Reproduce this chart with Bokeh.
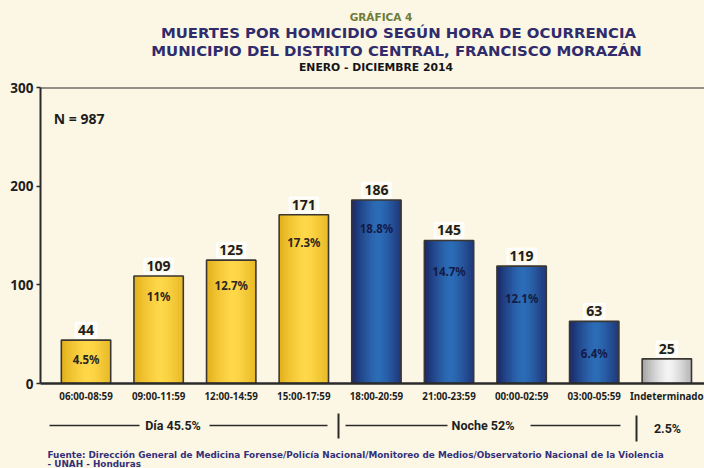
from bokeh.plotting import figure
from bokeh.models import Range1d, FixedTicker, Span, Label
from bokeh.layouts import column
from bokeh.embed import file_html
from bokeh.resources import INLINE
from bokeh.core.properties import value

# ---------------- data ----------------
categories = ["06:00-08:59", "09:00-11:59", "12:00-14:59", "15:00-17:59",
              "18:00-20:59", "21:00-23:59", "00:00-02:59", "03:00-05:59",
              "Indeterminado"]
counts = [44, 109, 125, 171, 186, 145, 119, 63, 25]
percents = ["4.5%", "11%", "12.7%", "17.3%", "18.8%", "14.7%", "12.1%", "6.4%", ""]
period = ["dia", "dia", "dia", "dia", "noche", "noche", "noche", "noche", "ind"]
groups = ["Día 45.5%", "Noche 52%", "2.5%"]
total_label = "N = 987"
y_ticks = [0, 100, 200, 300]

title_top = "GRÁFICA 4"
title_1 = "MUERTES POR HOMICIDIO SEGÚN HORA DE OCURRENCIA"
title_2 = "MUNICIPIO DEL DISTRITO CENTRAL, FRANCISCO MORAZÁN"
title_3 = "ENERO - DICIEMBRE 2014"
source_1 = ("Fuente: Dirección General de Medicina Forense/Policía Nacional/"
            "Monitoreo de Medios/Observatorio Nacional de la Violencia")
source_2 = "- UNAH - Honduras"

# ---------------- style ----------------
BG = "#FCF7E5"
NOTO = value("Noto Sans")
DEJA = value("DejaVu Sans")
W = 704
bar_w = 0.68
pct_dy = [19, 21, 25, 28, 29, 31, 32, 32, 0]
grad = {
    "dia": ("#E0AE18", "#FFD84A"),
    "noche": ("#1A2462", "#2C6DB8"),
    "ind": ("#9E9E9E", "#F4F4F4"),
}
pct_color = {"dia": "#2A2620", "noche": "#141A45", "ind": "#222222"}


def mix(c1, c2, t):
    a = [int(c1[i:i + 2], 16) for i in (1, 3, 5)]
    b = [int(c2[i:i + 2], 16) for i in (1, 3, 5)]
    return "#%02x%02x%02x" % tuple(int(round(a[k] + (b[k] - a[k]) * t)) for k in range(3))


def base_fig(w, h, xr, yr, **kw):
    return figure(width=w, height=h, x_range=xr, y_range=yr, output_backend="svg",
                  toolbar_location=None, background_fill_color=BG,
                  border_fill_color=BG, outline_line_color=None, **kw)


# ---------------- title figure (pixel coordinates) ----------------
pt = base_fig(W, 80, Range1d(40, 704), Range1d(80, 0),
              x_axis_type=None, y_axis_type=None,
              min_border_left=40, min_border_right=0,
              min_border_top=0, min_border_bottom=0)
pt.text(x=[380.5], y=[16], text=[title_top], text_font=DEJA, text_font_style="bold",
        text_font_size="10.5px", text_color="#6E7B3A", text_align="center",
        text_baseline="middle")
pt.text(x=[398, 396], y=[32, 50], text=[title_1, title_2], text_font=DEJA,
        text_font_style="bold", text_font_size="14.9px", text_color="#302C6C",
        text_align="center", text_baseline="middle")
pt.text(x=[375.5], y=[66.5], text=[title_3], text_font=DEJA, text_font_style="bold",
        text_font_size="10.8px", text_color="#151515", text_align="center",
        text_baseline="middle")

# ---------------- main chart ----------------
xs = list(range(len(categories)))
p = base_fig(W, 333, Range1d(-0.627, 8.519), Range1d(0, 300),
             min_border_left=40, min_border_right=0, min_border_top=7,
             min_border_bottom=30)
p.grid.visible = False

# gradient bars built as thin vertical strips
N = 22
sx, sw, stop, sc = [], [], [], []
for i, v in enumerate(counts):
    edge, center = grad[period[i]]
    for k in range(N):
        t0 = (k + 0.5) / N
        d = abs(t0 - 0.55) / 0.55
        sx.append(xs[i] - bar_w / 2 + t0 * bar_w)
        sw.append(bar_w / N * (1.0 if k in (0, N - 1) else 1.6))
        stop.append(v)
        sc.append(mix(center, edge, min(1.0, d) ** 1.4))
p.vbar(x=sx, width=sw, top=stop, bottom=0, fill_color=sc, line_color=None)
p.vbar(x=xs, width=bar_w, top=counts, bottom=0, fill_color=None,
       line_color="#3A3732", line_width=1.6)

# value labels in white-bordered boxes
for i, c in enumerate(counts):
    p.add_layout(Label(x=xs[i], y=c, text=str(c), y_offset=3, text_align="center",
                       text_baseline="bottom", text_font="Noto Sans",
                       text_font_style="bold", text_font_size="14px",
                       text_color="#1E1E1E", border_line_color="white",
                       border_line_width=2.5, padding=2))

# percentage labels inside bars
pi = [i for i in xs if percents[i]]
p.text(x=[xs[i] for i in pi], y=[counts[i] for i in pi], text=[percents[i] for i in pi],
       y_offset=[pct_dy[i] for i in pi], text_font=NOTO, text_font_style="bold",
       text_font_size="11.5px", text_color=[pct_color[period[i]] for i in pi],
       text_align="center", text_baseline="middle")

p.text(x=[-0.445], y=[268.5], text=[total_label], text_font=NOTO, text_font_style="bold",
       text_font_size="14px", text_color="#1E1E1E", text_align="left",
       text_baseline="middle")

p.add_layout(Span(location=300, dimension="width", line_color="#2A2A2A", line_width=2))

# axes
p.xaxis.ticker = FixedTicker(ticks=xs)
p.xaxis.major_label_overrides = {i: c for i, c in enumerate(categories)}
p.xaxis.major_tick_line_color = None
p.xaxis.major_tick_out = 0
p.xaxis.major_tick_in = 0
p.xaxis.minor_tick_line_color = None
p.xaxis.axis_line_width = 2.5
p.xaxis.axis_line_color = "#2A2A2A"
p.xaxis.major_label_standoff = 6
p.xaxis.major_label_text_font = "Noto Sans"
p.xaxis.major_label_text_font_style = "bold"
p.xaxis.major_label_text_font_size = "9.8px"
p.xaxis.major_label_text_color = "#1E1E1E"

p.yaxis.ticker = FixedTicker(ticks=y_ticks)
p.yaxis.minor_tick_line_color = None
p.yaxis.axis_line_width = 2
p.yaxis.axis_line_color = "#2A2A2A"
p.yaxis.major_tick_line_color = "#2A2A2A"
p.yaxis.major_tick_line_width = 1.5
p.yaxis.major_tick_out = 4
p.yaxis.major_tick_in = 0
p.yaxis.major_label_standoff = 3
p.yaxis.major_label_text_font = "Noto Sans"
p.yaxis.major_label_text_font_style = "bold"
p.yaxis.major_label_text_font_size = "13.5px"
p.yaxis.major_label_text_color = "#1E1E1E"

# ---------------- bottom strip (pixel coordinates) ----------------
pb = base_fig(W, 55, Range1d(40, 704), Range1d(468, 413),
              x_axis_type=None, y_axis_type=None,
              min_border_left=40, min_border_right=0, min_border_top=0,
              min_border_bottom=0)
pb.segment(x0=[49, 209, 345, 530], x1=[139, 327, 447, 620],
           y0=[425, 425, 425, 425], y1=[425, 425, 425, 425],
           line_color="#2A2A2A", line_width=1.6)
pb.segment(x0=[338, 636], x1=[338, 636], y0=[412, 415], y1=[438, 441],
           line_color="#2A2A2A", line_width=2)
pb.text(x=[172.5, 482.5, 667], y=[425, 425, 428], text=groups,
        text_font=value("Roboto"), text_font_style="bold",
        text_font_size="12.5px", text_color="#1E1E1E", text_align="center",
        text_baseline="middle")
pb.text(x=[47, 47], y=[454.5, 463], text=[source_1, source_2], text_font=DEJA,
        text_font_style="bold", text_font_size="8.85px", text_color="#33307A",
        text_align="left", text_baseline="middle")

layout = column(pt, p, pb, spacing=0)
layout.styles = {"background-color": BG}
open("out.html", "w").write(file_html(layout, INLINE))
